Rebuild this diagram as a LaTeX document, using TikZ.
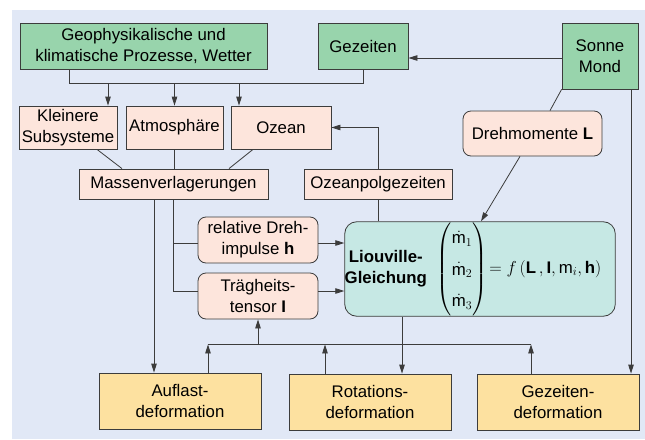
\documentclass[tikz,border=0pt]{standalone}
\usepackage{amsmath}
\usepackage{fontspec}
\setmainfont{Liberation Sans}
\usetikzlibrary{arrows.meta}
\definecolor{bgblue}{HTML}{E1E8F6}
\definecolor{procgreen}{HTML}{98D4AC}
\definecolor{masspink}{HTML}{FDE5DC}
\definecolor{eqteal}{HTML}{C6E8E4}
\definecolor{defyellow}{HTML}{FDE1A0}
\definecolor{linegray}{HTML}{3C3C3C}
\begin{document}
\begin{tikzpicture}[x=1pt,y=-1pt,
  box/.style={draw=linegray,line width=0.8pt,inner sep=0pt,align=center,font=\fontsize{16.8pt}{21pt}\selectfont},
  src/.style={box,fill=procgreen},
  sub/.style={box,fill=masspink},
  qty/.style={box,fill=masspink,rounded corners=8pt},
  eqn/.style={box,fill=eqteal,rounded corners=12pt},
  defo/.style={box,fill=defyellow,minimum width=162pt,minimum height=56pt},
  ln/.style={linegray,line width=0.8pt},
  arr/.style={ln,-{Triangle[length=9pt,width=5.5pt]}}
]
  \useasboundingbox (0,0) rectangle (645,439);
  \fill[bgblue] (12,10) rectangle (645,439);
  % top row
  \node[src,minimum width=247pt,minimum height=46pt] (geo) at (143.5,46) {Geophysikalische und\\klimatische Prozesse, Wetter};
  \node[src,minimum width=90pt,minimum height=46pt] (gez) at (363,46) {Gezeiten};
  \node[src,minimum width=76pt,minimum height=66pt] (sonne) at (600,56) {Sonne\\Mond};
  % subsystems
  \node[sub,minimum width=98pt,minimum height=43pt] (klein) at (68,127.5) {Kleinere\\Subsysteme};
  \node[sub,minimum width=97pt,minimum height=43pt] (atmo) at (174.5,127.5) {Atmosphäre};
  \node[sub,minimum width=100pt,minimum height=43pt] (ozean) at (281,127.5) {Ozean};
  \node[sub,minimum width=189pt,minimum height=30pt] (massen) at (173.5,184) {Massenverlagerungen};
  \node[sub,minimum width=148pt,minimum height=30pt] (ozpol) at (378,184) {Ozeanpolgezeiten};
  \node[qty,minimum width=139pt,minimum height=45pt] (dreh) at (532.5,133.5) {Drehmomente \textbf{L}};
  \node[qty,minimum width=120pt,minimum height=46pt] (rel) at (258,240) {relative Dreh-\\impulse \textbf{h}};
  \node[qty,minimum width=120pt,minimum height=46pt] (trag) at (258,296) {Trägheits-\\tensor \textbf{I}};
  % equation
  \node[eqn,minimum width=270pt,minimum height=90pt] (liou) at (480,269) {%
    \begin{tabular}{@{}c@{}}\bfseries Liouville-\\\bfseries Gleichung\end{tabular}\hspace{10pt}%
    $\renewcommand{\arraystretch}{1.5}\begin{pmatrix}\dot{\mathrm{m}}_1\\\dot{\mathrm{m}}_2\\\dot{\mathrm{m}}_3\end{pmatrix}
    \!=f\,(\mathbf{L}\,,\mathbf{I},\mathrm{m}_i,\mathbf{h})$\hspace{14pt}};
  % deformations
  \node[defo] (auf) at (180,401) {Auflast-\\deformation};
  \node[defo] (rot) at (370,402) {Rotations-\\deformation};
  \node[defo] (gzd) at (558,402) {Gezeiten-\\deformation};

  % forcing bus
  \coordinate (gL) at ([xshift=-74.5pt]geo.south);
  \coordinate (bus) at ([yshift=-14pt]geo.south);
  \draw[ln] (gL) -- (gL |- bus) -| (gez.south);
  \coordinate (k1) at ([xshift=40pt]klein.north);
  \coordinate (o1) at ([xshift=-42pt]ozean.north);
  \draw[arr] (k1 |- bus) -- (k1);
  \draw[arr] (atmo.north |- bus) -- (atmo.north);
  \draw[arr] (o1 |- bus) -- (o1);
  \draw[arr] ([yshift=-2pt]sonne.west) coordinate (s1) -- (gez.east |- s1);
  % into mass redistribution
  \draw[ln] ([xshift=29pt]klein.south) -- ([xshift=-51.5pt]massen.north);
  \draw[ln] (atmo.south) -- (atmo.south |- massen.north);
  \draw[ln] ([xshift=-28pt]ozean.south) -- ([xshift=55.5pt]massen.north);
  \coordinate (m1) at ([xshift=-19.5pt]massen.south);
  \draw[arr] (m1) -- (m1 |- auf.north);
  \draw[ln] (massen.south) |- ([yshift=-3pt]rel.west);
  \draw[ln] (massen.south) |- ([yshift=5pt]trag.west);
  \draw[arr] ([yshift=-3pt]rel.east) coordinate (r1) -- (liou.west |- r1);
  \draw[arr] ([yshift=5pt]trag.east) coordinate (t1) -- (liou.west |- t1);
  % ocean pole tide
  \draw[ln] (liou.north -| ozpol.south) -- (ozpol.south);
  \draw[arr] (ozpol.north) |- (ozean.east);
  % torques
  \draw[ln] (sonne.south west) -- ([xshift=17.5pt]dreh.north);
  \draw[arr] ([xshift=-12.5pt]dreh.south) -- ([xshift=1pt]liou.north);
  \coordinate (s2) at ([xshift=31pt]sonne.south);
  \draw[arr] (s2) -- (s2 |- gzd.north);
  \coordinate (l1) at ([xshift=-78pt]liou.south);
  \draw[arr] (l1) -- (l1 |- rot.north);
  % feedback bus
  \coordinate (fb) at ([yshift=-25pt]trag.south);
  \coordinate (d1) at ([xshift=28pt]auf.north);
  \coordinate (d2) at ([xshift=-45pt]rot.north);
  \coordinate (d3) at ([xshift=-27pt]gzd.north);
  \draw[ln] (d1 |- fb) -- (d3 |- fb);
  \draw[arr] (d1) -- (d1 |- fb);
  \draw[arr] (d2) -- (d2 |- fb);
  \draw[arr] (d3) -- (d3 |- fb);
  \draw[arr] (fb) -- (trag.south);
\end{tikzpicture}
\end{document}
